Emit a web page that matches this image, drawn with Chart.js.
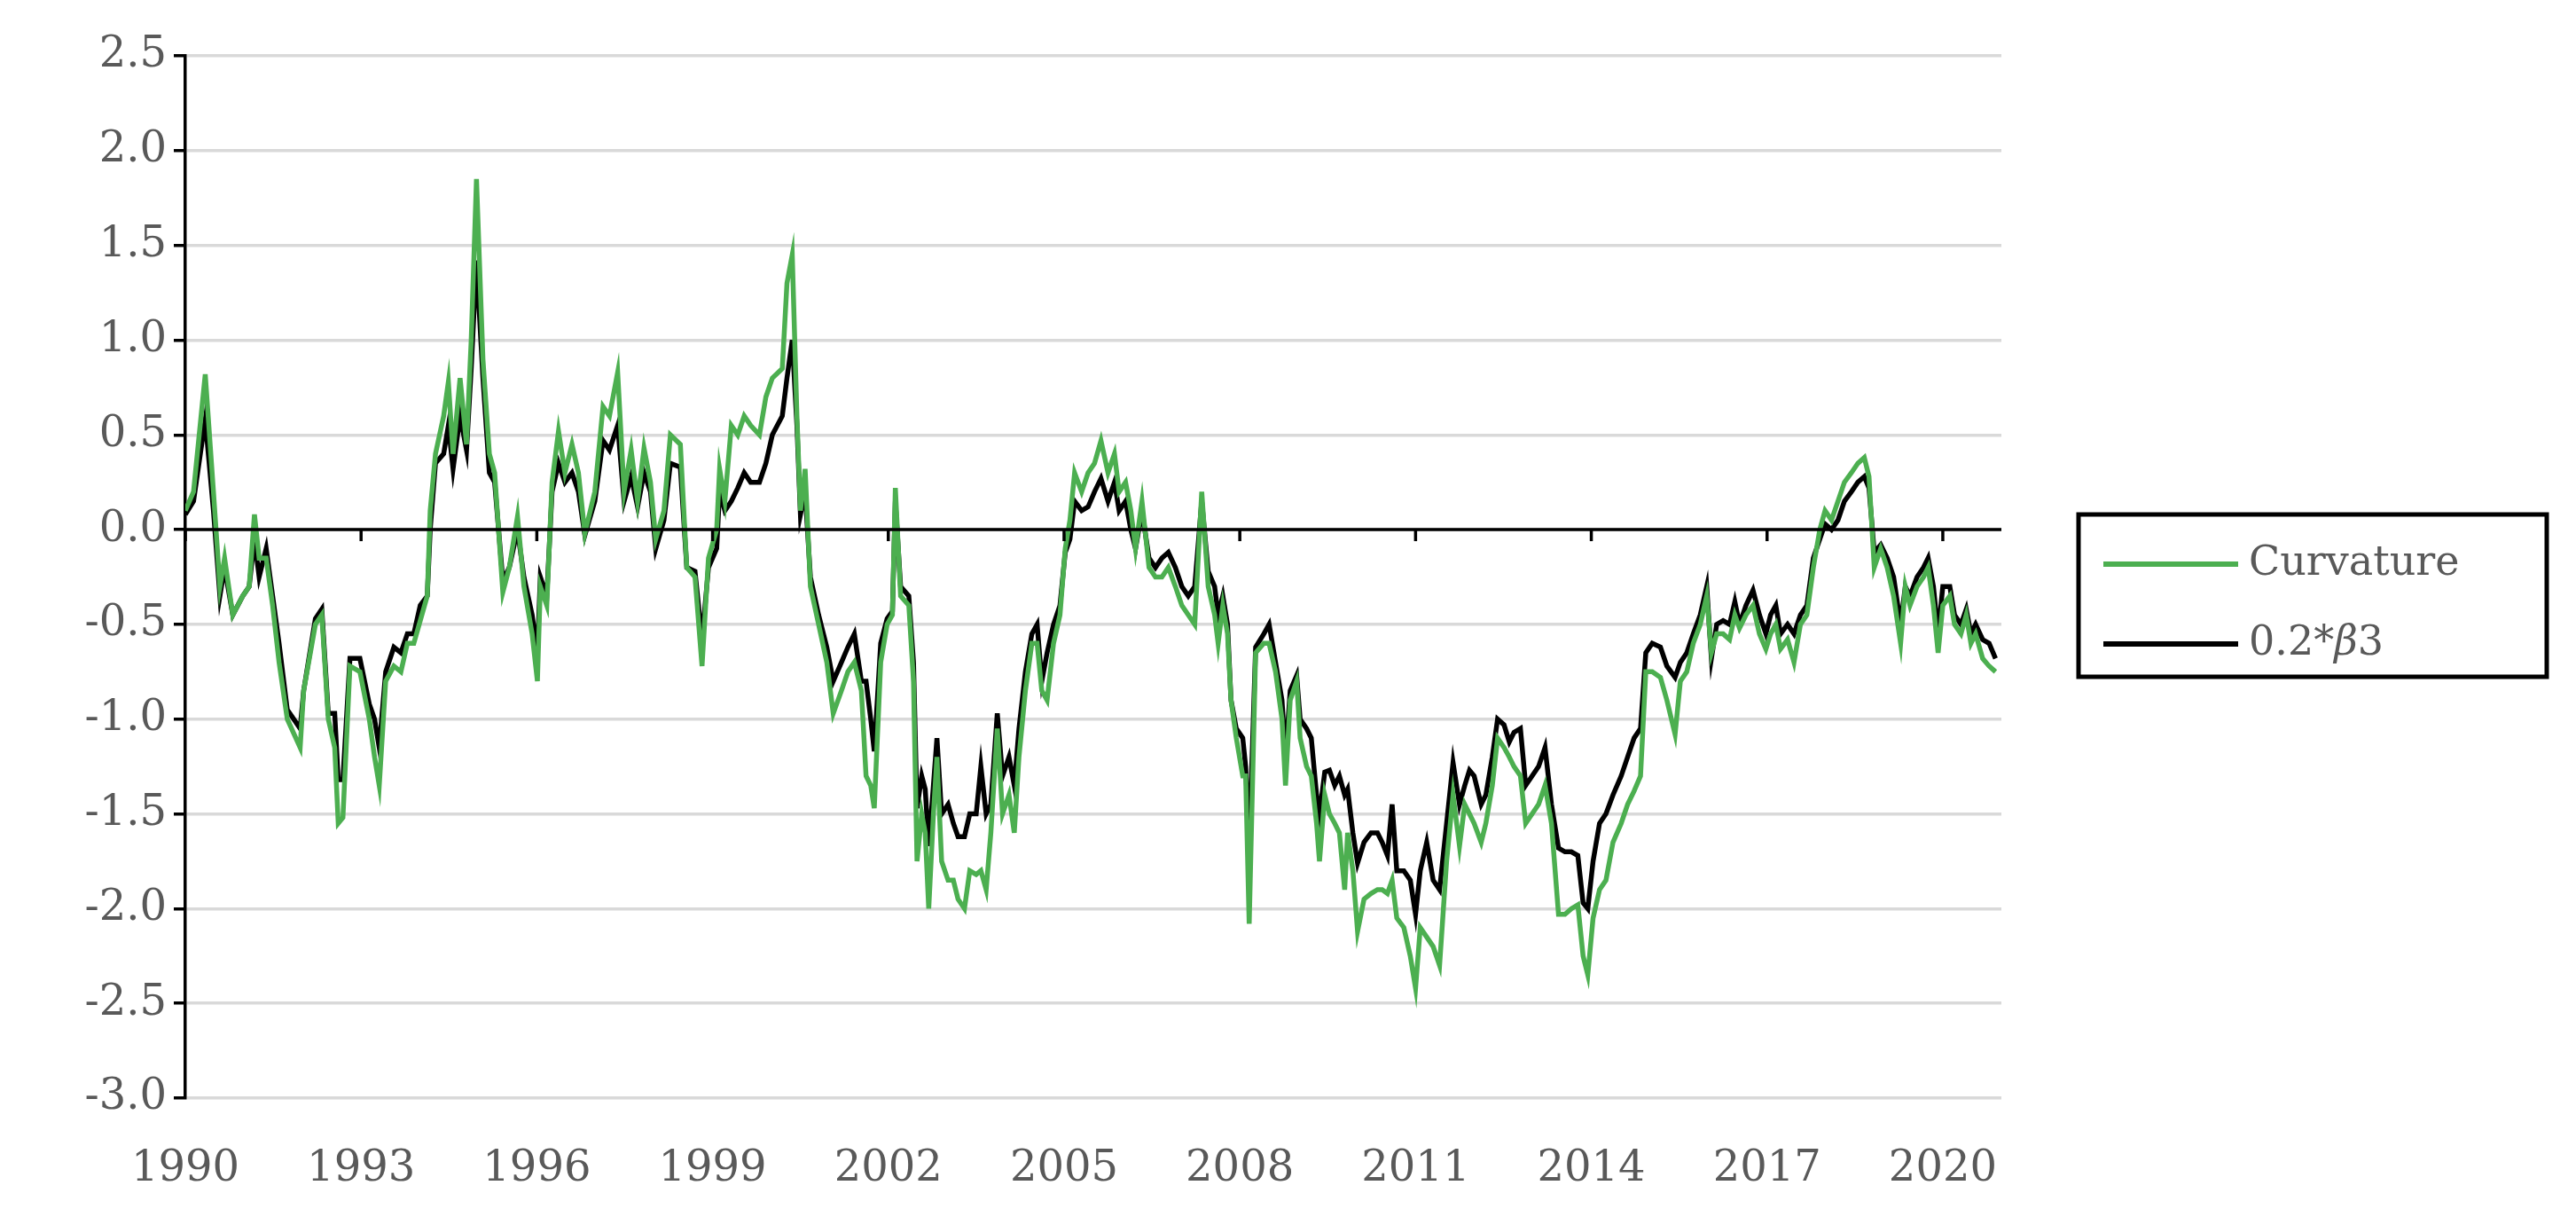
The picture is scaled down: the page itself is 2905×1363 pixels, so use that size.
<!DOCTYPE html>
<html><head><meta charset="utf-8">
<script src="https://cdn.jsdelivr.net/npm/chart.js@4"></script>
<style>html,body{margin:0;padding:0;background:#fff}#wrap{width:2905px;height:1363px}</style>
</head><body><div id="wrap"><canvas id="c" width="2905" height="1363"></canvas></div>
<script>
const years = [1990.0,1990.14,1990.34,1990.48,1990.59,1990.67,1990.81,1990.98,1991.09,1991.18,1991.26,1991.38,1991.49,1991.6,1991.74,1991.96,1992.02,1992.22,1992.33,1992.44,1992.55,1992.61,1992.69,1992.81,1992.98,1993.14,1993.23,1993.31,1993.42,1993.56,1993.68,1993.79,1993.9,1994.01,1994.13,1994.18,1994.27,1994.41,1994.49,1994.57,1994.69,1994.8,1994.88,1994.97,1995.08,1995.19,1995.28,1995.42,1995.53,1995.67,1995.78,1995.92,1996.01,1996.06,1996.17,1996.26,1996.37,1996.48,1996.6,1996.71,1996.82,1996.99,1997.13,1997.24,1997.38,1997.49,1997.61,1997.72,1997.83,1997.94,1998.03,1998.17,1998.28,1998.45,1998.56,1998.7,1998.82,1998.93,1999.07,1999.12,1999.21,1999.32,1999.43,1999.54,1999.65,1999.8,1999.91,2000.02,2000.19,2000.27,2000.36,2000.44,2000.5,2000.58,2000.67,2000.81,2000.95,2001.06,2001.2,2001.31,2001.42,2001.54,2001.62,2001.7,2001.76,2001.87,2001.98,2002.07,2002.12,2002.21,2002.35,2002.43,2002.49,2002.57,2002.63,2002.69,2002.77,2002.83,2002.91,2003.02,2003.11,2003.19,2003.3,2003.39,2003.5,2003.58,2003.67,2003.75,2003.86,2003.95,2004.06,2004.15,2004.23,2004.34,2004.45,2004.54,2004.62,2004.71,2004.82,2004.93,2005.02,2005.1,2005.18,2005.3,2005.41,2005.52,2005.63,2005.75,2005.86,2005.94,2006.05,2006.14,2006.22,2006.33,2006.45,2006.56,2006.67,2006.78,2006.9,2007.01,2007.12,2007.23,2007.35,2007.46,2007.57,2007.63,2007.71,2007.79,2007.85,2007.94,2008.05,2008.1,2008.16,2008.27,2008.41,2008.5,2008.61,2008.72,2008.78,2008.86,2008.97,2009.03,2009.14,2009.22,2009.31,2009.36,2009.45,2009.53,2009.62,2009.7,2009.79,2009.84,2009.93,2010.01,2010.12,2010.24,2010.35,2010.43,2010.52,2010.6,2010.68,2010.8,2010.91,2011.0,2011.08,2011.19,2011.3,2011.41,2011.53,2011.64,2011.75,2011.84,2011.92,2012.0,2012.12,2012.2,2012.31,2012.4,2012.51,2012.6,2012.68,2012.79,2012.88,2012.99,2013.1,2013.21,2013.32,2013.44,2013.55,2013.66,2013.77,2013.86,2013.94,2014.03,2014.14,2014.25,2014.37,2014.51,2014.62,2014.73,2014.84,2014.93,2015.04,2015.18,2015.29,2015.43,2015.52,2015.63,2015.74,2015.86,2015.97,2016.05,2016.14,2016.25,2016.36,2016.45,2016.53,2016.64,2016.76,2016.87,2016.98,2017.06,2017.15,2017.23,2017.35,2017.46,2017.57,2017.68,2017.79,2017.9,2017.99,2018.1,2018.21,2018.32,2018.44,2018.55,2018.66,2018.74,2018.83,2018.94,2019.05,2019.16,2019.28,2019.36,2019.44,2019.56,2019.67,2019.75,2019.84,2019.92,2020.0,2020.12,2020.2,2020.31,2020.4,2020.48,2020.56,2020.68,2020.79,2020.9];
const beta3 = [0.08,0.15,0.58,0.1,-0.35,-0.2,-0.45,-0.35,-0.3,-0.05,-0.25,-0.1,-0.35,-0.6,-0.95,-1.05,-0.85,-0.47,-0.42,-0.97,-0.97,-1.32,-1.32,-0.68,-0.68,-0.92,-1.0,-1.15,-0.75,-0.62,-0.65,-0.55,-0.55,-0.4,-0.35,0.0,0.35,0.4,0.55,0.32,0.6,0.42,0.85,1.42,0.8,0.3,0.25,-0.27,-0.2,0.0,-0.25,-0.45,-0.65,-0.25,-0.35,0.2,0.35,0.25,0.3,0.2,-0.03,0.15,0.47,0.42,0.55,0.15,0.28,0.12,0.3,0.2,-0.1,0.05,0.35,0.33,-0.2,-0.22,-0.58,-0.2,-0.1,0.2,0.1,0.15,0.22,0.3,0.25,0.25,0.35,0.5,0.6,0.8,1.0,0.55,0.08,0.2,-0.25,-0.45,-0.62,-0.8,-0.7,-0.62,-0.55,-0.8,-0.8,-1.0,-1.17,-0.6,-0.47,-0.43,0.15,-0.3,-0.35,-0.7,-1.47,-1.3,-1.37,-1.67,-1.35,-1.1,-1.5,-1.45,-1.55,-1.62,-1.62,-1.5,-1.5,-1.25,-1.5,-1.45,-0.97,-1.3,-1.2,-1.35,-1.05,-0.75,-0.55,-0.5,-0.8,-0.65,-0.5,-0.4,-0.12,-0.05,0.15,0.1,0.12,0.2,0.27,0.15,0.25,0.1,0.15,0.0,-0.1,0.1,-0.15,-0.2,-0.15,-0.12,-0.2,-0.3,-0.35,-0.3,0.15,-0.22,-0.3,-0.45,-0.35,-0.5,-0.9,-1.05,-1.1,-1.25,-1.68,-0.62,-0.55,-0.5,-0.7,-0.9,-1.2,-0.85,-0.77,-1.0,-1.05,-1.1,-1.4,-1.5,-1.28,-1.27,-1.35,-1.3,-1.4,-1.37,-1.6,-1.76,-1.65,-1.6,-1.6,-1.65,-1.72,-1.45,-1.8,-1.8,-1.85,-2.03,-1.8,-1.65,-1.85,-1.9,-1.55,-1.23,-1.45,-1.35,-1.27,-1.3,-1.45,-1.4,-1.2,-1.0,-1.03,-1.12,-1.07,-1.05,-1.35,-1.3,-1.25,-1.15,-1.45,-1.68,-1.7,-1.7,-1.72,-1.97,-2.0,-1.75,-1.55,-1.5,-1.4,-1.3,-1.2,-1.1,-1.05,-0.65,-0.6,-0.62,-0.72,-0.78,-0.7,-0.65,-0.55,-0.45,-0.3,-0.68,-0.5,-0.48,-0.5,-0.38,-0.5,-0.4,-0.32,-0.45,-0.55,-0.45,-0.4,-0.55,-0.5,-0.55,-0.45,-0.4,-0.15,-0.05,0.03,0.0,0.05,0.15,0.2,0.25,0.28,0.22,-0.12,-0.08,-0.15,-0.25,-0.5,-0.3,-0.35,-0.25,-0.2,-0.15,-0.3,-0.55,-0.3,-0.3,-0.45,-0.5,-0.42,-0.55,-0.5,-0.58,-0.6,-0.68];
const curvature = [0.1,0.2,0.82,0.2,-0.3,-0.15,-0.45,-0.35,-0.3,0.08,-0.15,-0.15,-0.4,-0.7,-1.0,-1.15,-0.85,-0.5,-0.45,-1.0,-1.15,-1.55,-1.52,-0.72,-0.75,-1.0,-1.2,-1.35,-0.8,-0.72,-0.75,-0.6,-0.6,-0.48,-0.35,0.1,0.4,0.6,0.78,0.4,0.8,0.45,1.0,1.85,0.9,0.4,0.3,-0.33,-0.2,0.07,-0.3,-0.55,-0.8,-0.3,-0.4,0.25,0.52,0.3,0.45,0.3,-0.02,0.2,0.65,0.6,0.83,0.2,0.42,0.15,0.43,0.25,-0.05,0.1,0.5,0.45,-0.2,-0.25,-0.72,-0.15,0.0,0.32,0.15,0.55,0.5,0.6,0.55,0.5,0.7,0.8,0.85,1.3,1.45,0.6,0.1,0.32,-0.3,-0.5,-0.7,-0.97,-0.85,-0.75,-0.7,-0.85,-1.3,-1.35,-1.47,-0.7,-0.5,-0.45,0.22,-0.35,-0.4,-0.8,-1.75,-1.5,-1.6,-2.0,-1.5,-1.2,-1.75,-1.85,-1.85,-1.95,-2.0,-1.8,-1.82,-1.8,-1.9,-1.6,-1.05,-1.5,-1.4,-1.6,-1.2,-0.85,-0.6,-0.6,-0.85,-0.9,-0.6,-0.45,-0.1,0.05,0.3,0.2,0.3,0.35,0.47,0.3,0.4,0.2,0.25,0.1,-0.1,0.15,-0.2,-0.25,-0.25,-0.2,-0.3,-0.4,-0.45,-0.5,0.2,-0.3,-0.45,-0.6,-0.4,-0.55,-0.9,-1.1,-1.3,-1.3,-2.08,-0.65,-0.6,-0.6,-0.75,-1.0,-1.35,-0.9,-0.8,-1.1,-1.25,-1.3,-1.55,-1.75,-1.4,-1.5,-1.55,-1.6,-1.9,-1.6,-1.8,-2.12,-1.95,-1.92,-1.9,-1.9,-1.92,-1.85,-2.05,-2.1,-2.25,-2.42,-2.1,-2.15,-2.2,-2.3,-1.75,-1.4,-1.67,-1.45,-1.5,-1.55,-1.65,-1.55,-1.35,-1.1,-1.15,-1.2,-1.25,-1.3,-1.55,-1.5,-1.45,-1.35,-1.55,-2.03,-2.03,-2.0,-1.98,-2.25,-2.35,-2.05,-1.9,-1.85,-1.65,-1.55,-1.45,-1.38,-1.3,-0.75,-0.75,-0.78,-0.9,-1.08,-0.8,-0.75,-0.6,-0.5,-0.35,-0.65,-0.55,-0.55,-0.58,-0.45,-0.52,-0.45,-0.4,-0.55,-0.63,-0.55,-0.5,-0.63,-0.58,-0.7,-0.5,-0.45,-0.2,0.0,0.1,0.05,0.15,0.25,0.3,0.35,0.38,0.28,-0.2,-0.1,-0.2,-0.35,-0.6,-0.3,-0.4,-0.3,-0.25,-0.2,-0.4,-0.65,-0.4,-0.35,-0.5,-0.55,-0.45,-0.6,-0.55,-0.68,-0.72,-0.75];
const xTickYears = [1990,1993,1996,1999,2002,2005,2008,2011,2014,2017,2020];
const yTicks = [-3.0,-2.5,-2.0,-1.5,-1.0,-0.5,0.0,0.5,1.0,1.5,2.0,2.5];
const seriesNames = ['Curvature','0.2*\u03B23'];

const FONT = '"DejaVu Serif", serif';
const GREEN = '#4caf50';
const TXT = '#595959';

const overlay = {
  id:'overlay',
  afterDatasetsDraw(chart){
    const {ctx, scales:{x,y}, chartArea:a} = chart;
    const y0 = y.getPixelForValue(0);
    ctx.save();
    ctx.strokeStyle='#000'; ctx.lineWidth=3.5;
    ctx.beginPath(); ctx.moveTo(a.left,y0); ctx.lineTo(a.right,y0); ctx.stroke();
    xTickYears.forEach(v=>{const px=x.getPixelForValue(v);ctx.beginPath();ctx.moveTo(px,y0);ctx.lineTo(px,y0+13);ctx.stroke();});
    // legend
    ctx.lineWidth=5; ctx.strokeRect(2344,580,528,183);
    ctx.lineWidth=6;
    ctx.strokeStyle=GREEN; ctx.beginPath(); ctx.moveTo(2372,636); ctx.lineTo(2524,636); ctx.stroke();
    ctx.strokeStyle='#000'; ctx.beginPath(); ctx.moveTo(2372,726); ctx.lineTo(2524,726); ctx.stroke();
    ctx.fillStyle=TXT; ctx.textBaseline='middle'; ctx.font='46px '+FONT;
    ctx.fillText(seriesNames[0],2536,636);
    const pre='0.2*'; ctx.fillText(pre,2536,726);
    let w=ctx.measureText(pre).width;
    ctx.font='italic 46px '+FONT; ctx.fillText('\u03B2',2536+w,726);
    w+=ctx.measureText('\u03B2').width;
    ctx.font='46px '+FONT; ctx.fillText('3',2536+w,726);
    ctx.restore();
  }
};

new Chart(document.getElementById('c'),{
  type:'line',
  data:{datasets:[
    {label:seriesNames[0],data:years.map((v,i)=>({x:v,y:curvature[i]})),borderColor:GREEN,borderWidth:5.5,pointRadius:0,tension:0},
    {label:seriesNames[1],data:years.map((v,i)=>({x:v,y:beta3[i]})),borderColor:'#000',borderWidth:5.5,pointRadius:0,tension:0}
  ]},
  options:{
    responsive:false,animation:false,
    layout:{padding:{left:0,right:648,top:63,bottom:0}},
    plugins:{legend:{display:false},tooltip:{enabled:false}},
    scales:{
      x:{type:'linear',min:1990,max:2021,
        afterBuildTicks(s){s.ticks=xTickYears.map(v=>({value:v}));},
        afterFit(s){s.height=125;},
        grid:{display:false,drawTicks:false},border:{display:false},
        ticks:{font:{family:FONT,size:48},color:TXT,padding:52,maxRotation:0,autoSkip:false,callback:v=>String(v)}},
      y:{min:-3,max:2.5,
        afterBuildTicks(s){s.ticks=yTicks.map(v=>({value:v}));},
        afterFit(s){s.width=209;},
        grid:{color:'#d9d9d9',lineWidth:3.5,tickLength:13,tickColor:'#000'},
        border:{color:'#000',width:3.5},
        ticks:{font:{family:FONT,size:48},color:TXT,padding:8,callback:v=>v.toFixed(1)}}
    }
  },
  plugins:[overlay]
});
</script></body></html>
